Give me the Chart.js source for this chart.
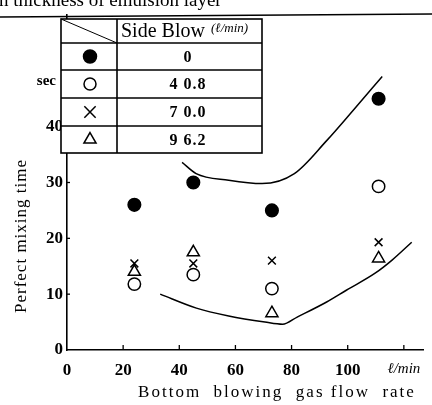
<!DOCTYPE html>
<html>
<head>
<meta charset="utf-8">
<script src="https://cdn.jsdelivr.net/npm/chart.js@4"></script>
<style>
html,body{margin:0;padding:0;background:#fff;}
#wrap{width:432px;height:405px;position:relative;}
</style>
</head>
<body>
<div id="wrap"><canvas id="c" width="432" height="405"></canvas></div>
<script>
// ---- data ----
const sideBlowLabels = ['0', '4 0.8', '7 0.0', '9 6.2'];
const flowRates = [24, 45, 73, 111];
const mixSide0 = [26, 30, 25, 45];
const mixSide408 = [11.8, 13.5, 11, 29.3];
const mixSide700 = [15.5, 15.5, 16, 19.3];
const mixSide962 = [14, 17.5, 6.6, 16.4];
const upperX = [41, 46, 57.6, 69.5, 81, 92.5, 101.9, 112.3];
const upperY = [33.6, 31.6, 30.4, 29.8, 31.6, 37.5, 42.9, 49.0];
const lowerX = [33.2, 46.1, 57.6, 70.5, 76.8, 82, 92.5, 99.5, 109.9, 115.8, 122.8];
const lowerY = [10.0, 7.5, 6.1, 5.0, 4.6, 5.9, 8.6, 10.7, 13.8, 16.1, 19.3];
const xTickLabels = {0:'0',20:'20',40:'40',60:'60',80:'80',100:'100',120:'ℓ/min'};
const yTickLabels = {0:'0',10:'10',20:'20',30:'30',40:'40'};

const pts = (xs, ys) => xs.map((x, i) => ({x, y: ys[i]}));
const SERIF = '"Liberation Serif","DejaVu Serif",serif';

const markerSets = [
  {data: mixSide0, pointStyle: 'circle', radius: 6.3, tableRadius: 6.5, bg: '#000'},
  {data: mixSide408, pointStyle: 'circle', radius: 6.2, tableRadius: 6, bg: '#fff'},
  {data: mixSide700, pointStyle: 'crossRot', radius: 5.5, tableRadius: 8, bg: '#fff'},
  {data: mixSide962, pointStyle: 'triangle', radius: 7, tableRadius: 7, bg: '#fff'}
];

const datasets = markerSets.map((m, i) => ({
  label: sideBlowLabels[i],
  data: pts(flowRates, m.data),
  showLine: false,
  pointStyle: m.pointStyle,
  pointRadius: m.radius,
  pointBackgroundColor: m.bg,
  pointBorderColor: '#000',
  pointBorderWidth: 1.5
}));
[[upperX, upperY], [lowerX, lowerY]].forEach(([xs, ys]) => {
  datasets.push({
    label: 'curve',
    data: pts(xs, ys),
    showLine: true,
    pointRadius: 0,
    borderColor: '#000',
    borderWidth: 1.5,
    cubicInterpolationMode: 'monotone',
    fill: false
  });
});

const decor = {
  id: 'decor',
  afterDraw(chart) {
    const ctx = chart.ctx;
    const xs = chart.scales.x, ys = chart.scales.y;
    ctx.save();
    ctx.strokeStyle = '#000';
    ctx.fillStyle = '#000';
    // inner tick marks
    ctx.lineWidth = 1.3;
    [20, 40, 60, 80, 100, 120].forEach(v => {
      const px = xs.getPixelForValue(v);
      ctx.beginPath(); ctx.moveTo(px, ys.bottom); ctx.lineTo(px, ys.bottom - 5); ctx.stroke();
    });
    [10, 20, 30, 40].forEach(v => {
      const py = ys.getPixelForValue(v);
      ctx.beginPath(); ctx.moveTo(xs.left, py); ctx.lineTo(xs.left + 3, py); ctx.stroke();
    });
    // top frame line
    ctx.lineWidth = 1.5;
    ctx.beginPath(); ctx.moveTo(0, 17); ctx.lineTo(432, 14); ctx.stroke();
    // caption (clipped at top)
    ctx.font = '19px ' + SERIF;
    ctx.textAlign = 'left'; ctx.textBaseline = 'alphabetic';
    ctx.fillText('n thickness of emulsion layer', -1, 6);
    // "sec" unit label
    ctx.font = 'bold 15px ' + SERIF;
    ctx.textAlign = 'right'; ctx.textBaseline = 'middle';
    ctx.fillText('sec', 56, 81);
    // axis titles
    ctx.font = '17px ' + SERIF;
    ctx.textAlign = 'center';
    ctx.letterSpacing = '2px';
    ctx.fillText('Bottom  blowing  gas flow  rate', 277, 393);
    ctx.save();
    ctx.translate(22, 236);
    ctx.rotate(-Math.PI / 2);
    ctx.letterSpacing = '1px';
    ctx.fillText('Perfect mixing time', 0, 0);
    ctx.restore();
    ctx.letterSpacing = '0px';
    // legend table
    const L = 61, M = 117, R = 262;
    const rows = [19, 43, 70, 98, 126, 153];
    ctx.fillStyle = '#fff';
    ctx.fillRect(L, rows[0], R - L, rows[5] - rows[0]);
    ctx.fillStyle = '#000';
    ctx.lineWidth = 1.6;
    ctx.strokeRect(L, rows[0], R - L, rows[5] - rows[0]);
    ctx.beginPath(); ctx.moveTo(M, rows[0]); ctx.lineTo(M, rows[5]); ctx.stroke();
    for (let i = 1; i < 5; i++) {
      ctx.beginPath(); ctx.moveTo(L, rows[i]); ctx.lineTo(R, rows[i]); ctx.stroke();
    }
    ctx.lineWidth = 1;
    ctx.beginPath(); ctx.moveTo(L, rows[0]); ctx.lineTo(M, rows[1]); ctx.stroke();
    ctx.font = '20px ' + SERIF;
    ctx.textAlign = 'left'; ctx.textBaseline = 'middle';
    ctx.fillText('Side Blow', 121, 32);
    ctx.font = 'italic 13px ' + SERIF;
    ctx.fillText('(ℓ/min)', 211, 29);
    ctx.font = 'bold 16px ' + SERIF;
    ctx.textAlign = 'center';
    ctx.letterSpacing = '1px';
    for (let i = 0; i < 4; i++) {
      const cy = (rows[i + 1] + rows[i + 2]) / 2;
      ctx.fillText(sideBlowLabels[i], 188, cy + 1);
    }
    ctx.letterSpacing = '0px';
    for (let i = 0; i < 4; i++) {
      const cy = (rows[i + 1] + rows[i + 2]) / 2;
      const m = markerSets[i];
      ctx.fillStyle = m.bg; ctx.strokeStyle = '#000'; ctx.lineWidth = 1.5;
      Chart.helpers.drawPoint(ctx, {pointStyle: m.pointStyle, radius: m.tableRadius, rotation: 0, borderWidth: 1.5}, 90, cy);
    }
    ctx.restore();
  }
};

new Chart(document.getElementById('c'), {
  type: 'scatter',
  data: {datasets},
  options: {
    responsive: false,
    animation: false,
    layout: {padding: {top: 15, right: 0, left: 0, bottom: 0}},
    plugins: {legend: {display: false}, tooltip: {enabled: false}, title: {display: false}},
    scales: {
      x: {
        type: 'linear', min: 0, max: 127,
        afterFit: s => { s.height = 55; },
        grid: {display: false, drawTicks: false},
        border: {display: true, color: '#000', width: 1.6},
        ticks: {
          stepSize: 20, padding: 10, color: '#000', maxRotation: 0,
          includeBounds: false, autoSkip: false,
          font: c => (c.tick && c.tick.value === 120) ? {family: SERIF, size: 15, style: 'italic'} : {family: SERIF, size: 17, weight: 'bold'},
          callback: v => (v in xTickLabels) ? xTickLabels[v] : ''
        }
      },
      y: {
        type: 'linear', min: 0, max: 60,
        afterFit: s => { s.width = 67; },
        grid: {display: false, drawTicks: false},
        border: {display: true, color: '#000', width: 1.6},
        ticks: {
          stepSize: 10, padding: 4, color: '#000',
          font: {family: SERIF, size: 17, weight: 'bold'},
          callback: v => (v in yTickLabels) ? yTickLabels[v] : ''
        }
      }
    }
  },
  plugins: [decor]
});
</script>
</body>
</html>
